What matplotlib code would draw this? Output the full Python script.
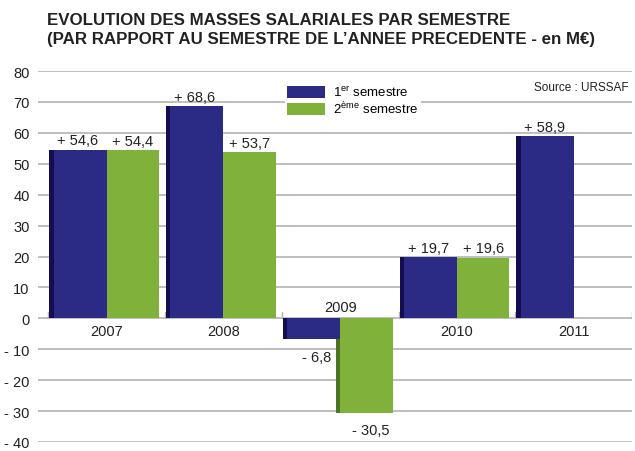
import numpy as np
import matplotlib.pyplot as plt
from matplotlib.patches import Patch

plt.rcParams['font.family'] = ['Liberation Sans', 'DejaVu Sans']
plt.rcParams['mathtext.default'] = 'regular'

years = ['2007', '2008', '2009', '2010', '2011']
sem1 = [54.6, 68.6, -6.8, 19.7, 58.9]
sem2 = [54.4, 53.7, -30.5, 19.6, np.nan]
yticks = [80, 70, 60, 50, 40, 30, 20, 10, 0, -10, -20, -30, -40]

blue = '#2b2a84'
blue_dark = '#150d52'
green = '#80b13a'
green_dark = '#4c7424'
grid_col = '#b4b4b4'


def fmt(v):
    s = f'{abs(v):.1f}'.replace('.', ',')
    return ('+ ' if v >= 0 else '- ') + s


def ytick_fmt(v):
    return f'- {abs(v)}' if v < 0 else f'{v}'


fig = plt.figure(figsize=(6.35, 4.52), dpi=100)
ax = fig.add_axes([38 / 635, 1 - 443 / 452, (632 - 38) / 635, (443 - 72) / 452])

x = np.arange(len(years))
w1 = 0.49
w2 = 0.45
strip = 0.035

# green bars first (their dark edge hides under the blue), blue drawn on top
ax.bar(x - strip, sem2, width=w2 + strip, align='edge', color=green, zorder=3)
ax.bar(x - strip, sem2, width=strip, align='edge', color=green_dark, zorder=3)
ax.bar(x - w1, sem1, width=w1, align='edge', color=blue, zorder=4)
ax.bar(x - w1, sem1, width=strip, align='edge', color=blue_dark, zorder=4)

for i in range(len(years)):
    for v, xc in ((sem1[i], x[i] - w1 / 2), (sem2[i], x[i] + w2 / 2)):
        if np.isnan(v):
            continue
        if v >= 0:
            ax.text(xc, v + 0.8, fmt(v), ha='center', va='bottom', fontsize=10.5, color='#222222', zorder=5)
        else:
            ax.text(xc + 0.04, v - 3.3, fmt(v), ha='center', va='top', fontsize=10.5, color='#222222', zorder=5)
    # category labels
    if min(sem1[i], np.nan_to_num(sem2[i])) < 0:
        ax.text(x[i], 1.5, years[i], ha='center', va='bottom', fontsize=10.5, color='#222222', zorder=5,
                bbox=dict(facecolor='white', edgecolor='none', pad=1))
    else:
        ax.text(x[i], -1.8, years[i], ha='center', va='top', fontsize=10.5, color='#222222', zorder=5)

# separators at the zero line
for b in np.arange(-0.5, len(years), 1.0):
    ax.plot([b, b], [0, 2], color=grid_col, lw=1, zorder=2)

ax.set_xlim(-0.588, 4.5)
ax.set_ylim(-40, 80)
ax.set_yticks(yticks)
ax.set_yticklabels([ytick_fmt(v) for v in yticks], fontsize=10.5, color='#222222')
ax.set_xticks([])
ax.tick_params(axis='y', length=0, pad=6)
ax.yaxis.grid(True, color=grid_col, lw=1.2)
ax.set_axisbelow(True)
for s in ax.spines.values():
    s.set_visible(False)

handles = [Patch(facecolor=blue, edgecolor='none'), Patch(facecolor=green, edgecolor='none')]
leg = ax.legend(handles, ['1$^{er}$ semestre', '2$^{\u00e8me}$ semestre'],
                loc='upper left', bbox_to_anchor=(0.415, 0.97), frameon=True, fontsize=9.5,
                handlelength=2.9, handleheight=1.05, handletextpad=0.6, labelspacing=0.05,
                borderpad=0.2, borderaxespad=0)
leg.get_frame().set_facecolor('white')
leg.get_frame().set_edgecolor('none')
leg.get_frame().set_alpha(1)
leg.set_zorder(6)

ax.text(0.995, 0.957, 'Source : URSSAF', transform=ax.transAxes, ha='right', va='center', fontsize=8.5, color='#222222')

fig.text(47 / 635, 1 - 13 / 452,
         'EVOLUTION DES MASSES SALARIALES PAR SEMESTRE\n(PAR RAPPORT AU SEMESTRE DE L\u2019ANNEE PRECEDENTE - en M\u20ac)',
         ha='left', va='top', fontsize=12.2, fontweight='bold', color='#222222', linespacing=1.35)

fig.savefig('out.png', dpi=100)
